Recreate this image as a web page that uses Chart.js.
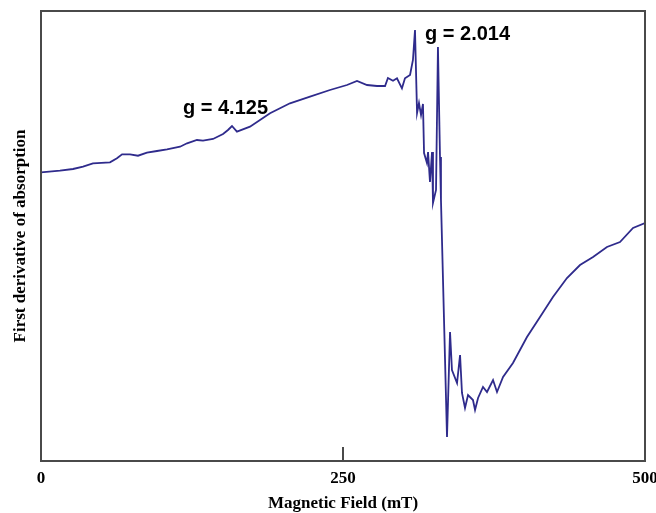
<!DOCTYPE html>
<html>
<head>
<meta charset="utf-8">
<script src="https://cdn.jsdelivr.net/npm/chart.js@4"></script>
<style>
  html, body { margin: 0; padding: 0; background: #fff; }
  #wrap { width: 656px; height: 513px; }
</style>
</head>
<body>
<div id="wrap"><canvas id="myChart" width="656" height="513"></canvas></div>
<script>
// magnetic field (mT)
const field = [
    0, 15.7, 26.5, 34.8, 43, 57.1, 62.9, 67.1, 73.7, 80.3,
    87.7, 96, 104.3, 115.1, 120.9, 129.1, 134.1, 142.4, 150.7, 154.8,
    158.1, 162.2, 173, 189.6, 206.1, 222.7, 239.2, 253.3, 261.6, 269.9,
    278.1, 284.8, 287.2, 291.4, 294.7, 298.8, 301.3, 305.5, 307.9, 309.6,
    311.3, 312.9, 314.6, 316.2, 317.1, 319.5, 320.4, 322, 323.7, 324.5,
    327, 328.6, 330.3, 331.1, 336.1, 338.6, 340.2, 344.4, 346.9, 348.5,
    351, 353.5, 357.6, 359.3, 361.8, 365.9, 369.2, 374.2, 377.5, 382.5,
    390.7, 402.3, 413.1, 423.8, 435.4, 446.2, 457, 468.5, 479.3, 490.1,
    500
];
// first derivative of absorption (arb. units)
const signal = [
    288.7, 290.3, 292, 294.3, 297.7, 298.7, 302.7, 306.7, 306.7, 305.3,
    308.3, 310, 311.7, 314.3, 317.7, 321, 320.3, 322, 327, 331,
    335, 329.3, 334.3, 347.7, 357.7, 364.3, 371, 376, 380, 376,
    375, 375, 383, 380.3, 382.7, 372.7, 382.7, 386, 401, 431,
    348, 358, 346, 357, 308, 298, 309, 279, 309, 258,
    271, 414, 304, 261, 24, 129, 91, 78, 106, 68,
    53, 66, 61, 51, 63, 74, 69, 81, 69, 84,
    98, 124, 144, 164, 183, 196, 204, 214, 219, 233,
    238
];
const xTicks = [0, 250, 500];

const gLabels = ["g = 4.125", "g = 2.014"];
const gLabelPos = [[117.5, 353], [317.9, 427]];

const points = field.map((f, i) => ({x: f, y: signal[i]}));

const serifBold = {family: "'Liberation Serif', 'Times New Roman', serif", size: 17, weight: 'bold'};

// frame, inner tick and g-value labels
const extras = {
    id: 'extras',
    afterDatasetsDraw(chart) {
        const ctx = chart.ctx;
        const a = chart.chartArea;
        const xs = chart.scales.x, ys = chart.scales.y;
        ctx.save();
        ctx.strokeStyle = '#4a4a4a';
        ctx.lineWidth = 2;
        ctx.strokeRect(a.left, a.top, a.right - a.left, a.bottom - a.top);
        const tx = Math.round(xs.getPixelForValue(250));
        ctx.beginPath();
        ctx.moveTo(tx, a.bottom);
        ctx.lineTo(tx, a.bottom - 14);
        ctx.stroke();

        ctx.fillStyle = '#000';
        ctx.font = "bold 20px 'Liberation Sans', Arial, sans-serif";
        ctx.textBaseline = 'middle';
        ctx.textAlign = 'left';
        gLabels.forEach((t, i) => {
            ctx.fillText(t, xs.getPixelForValue(gLabelPos[i][0]), ys.getPixelForValue(gLabelPos[i][1]));
        });
        ctx.restore();
    }
};

const myChart = new Chart(document.getElementById("myChart"), {
    type: "line",
    data: {
        datasets: [{
            label: "EPR",
            data: points,
            borderColor: '#2f2b8c',
            borderWidth: 1.8,
            pointRadius: 0,
            tension: 0,
            fill: false
        }]
    },
    options: {
        responsive: false,
        animation: false,
        layout: {padding: {top: 11, right: 11, left: 0, bottom: 0}},
        plugins: {
            legend: {display: false},
            tooltip: {enabled: false}
        },
        scales: {
            x: {
                type: 'linear',
                min: 0, max: 500,
                afterBuildTicks: (scale) => { scale.ticks = xTicks.map(v => ({value: v})); },
                afterFit: (scale) => { scale.height = 52; scale.paddingLeft = 0; scale.paddingRight = 0; },
                grid: {display: false, drawTicks: false},
                border: {display: false},
                ticks: {color: '#000', font: serifBold, padding: 7, maxRotation: 0},
                title: {display: true, text: 'Magnetic Field (mT)', color: '#000', font: serifBold, padding: {top: 0, bottom: -1}}
            },
            y: {
                min: 0, max: 450,
                afterFit: (scale) => { scale.width = 41; scale.paddingTop = 0; scale.paddingBottom = 0; },
                grid: {display: false, drawTicks: false},
                border: {display: false},
                ticks: {display: false},
                title: {display: true, text: 'First derivative of absorption', color: '#000', font: serifBold, padding: {top: 10, bottom: 0}}
            }
        }
    },
    plugins: [extras]
});
</script>
</body>
</html>
